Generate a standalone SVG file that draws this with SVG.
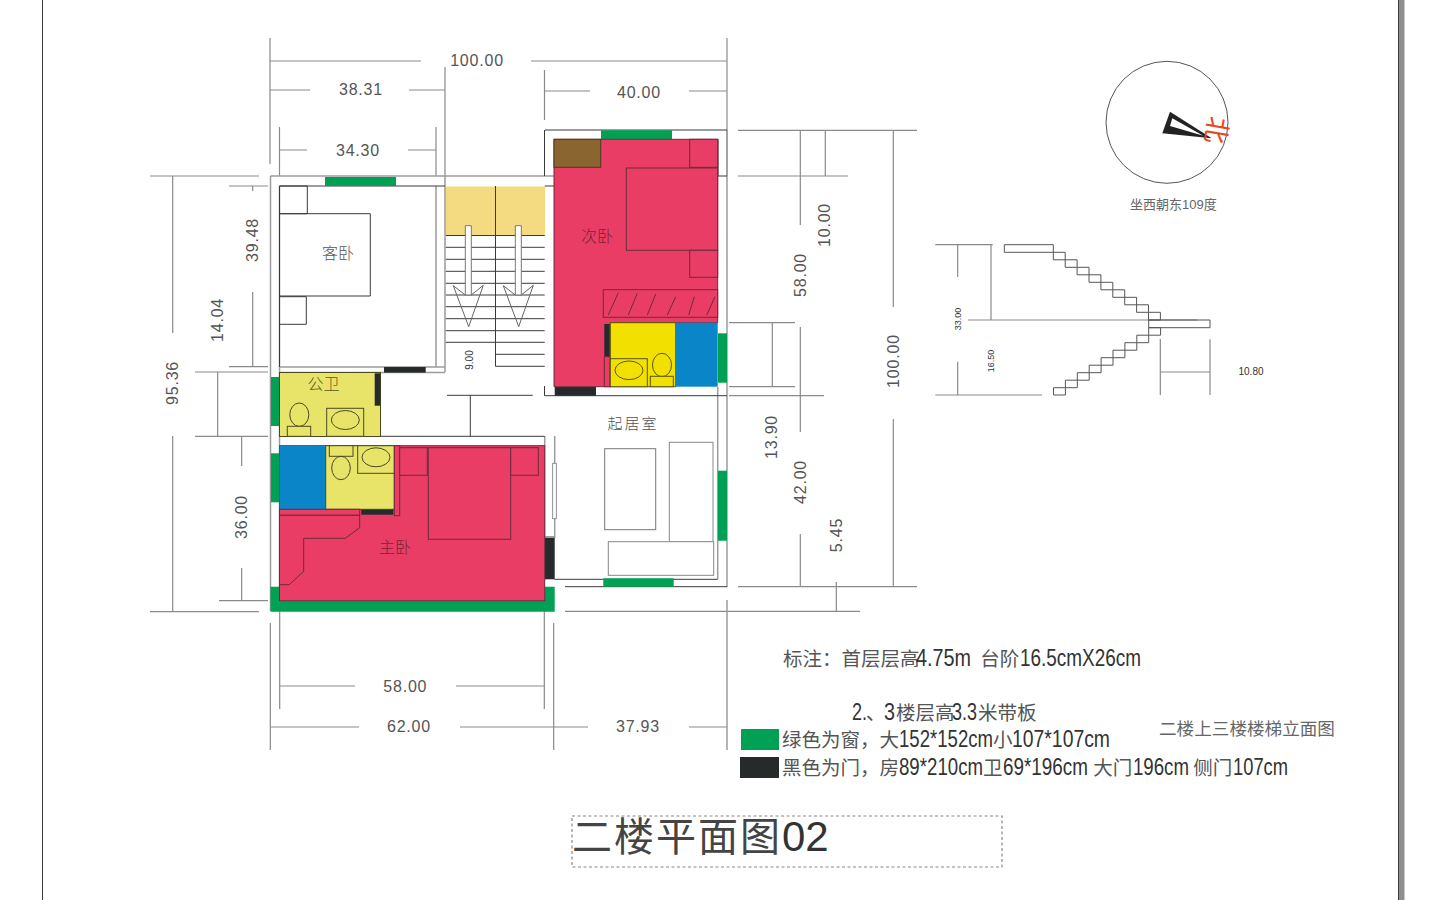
<svg xmlns="http://www.w3.org/2000/svg" width="1440" height="900" viewBox="0 0 1440 900">
<defs>
<style>
.g{fill:none;stroke:#8a8a8a;stroke-width:1.2}
.d{fill:none;stroke:#555;stroke-width:1}
.k{fill:none;stroke:#3a3a3a;stroke-width:1}
.w{fill:none;stroke:#9c9c9c;stroke-width:1.5}
.r{fill:#e93d65;stroke:#6e2a3c;stroke-width:1}
.rn{fill:none;stroke:#6e2a3c;stroke-width:1}
.y{fill:#e8e46a;stroke:#4a4a20;stroke-width:1}
.yb{fill:#f2e100;stroke:#5a5410;stroke-width:1}
.win{fill:#00a055}
.door{fill:#262a2b}
.blue{fill:#0a85c7}
.st{fill:#f4da80}
.dim{font-family:"Liberation Sans",Arial,sans-serif;font-size:16px;fill:#555;letter-spacing:.8px;text-anchor:middle}
.sm{font-family:"Liberation Sans",Arial,sans-serif;font-size:10px;fill:#333;text-anchor:middle}
.room{font-family:"Noto Sans CJK SC",sans-serif;font-size:16px;fill:#555;text-anchor:middle;font-weight:300}
.leg{font-family:"Noto Sans CJK SC",sans-serif;font-size:19.5px;fill:#555}
.num{font-family:"Liberation Sans",sans-serif;font-size:23px;fill:#333}
.cap{font-family:"Liberation Sans","Noto Sans CJK SC",sans-serif;fill:#666}
</style>
</defs>
<rect width="1440" height="900" fill="#fff"/>
<g id="page">
<path class="k" d="M42.5 0V900M1398.5 0V900"/>
<rect x="1399" y="0" width="5.5" height="900" fill="#8f8f8f"/>
</g>
<g id="dimensions">
<path class="g" d="M270 38V164M270 61H421M531 61H727M727 38V176M270 90H310M409 90H445M445 67V176M279.5 127V176M436 127V176M279.5 150H307M408 150H436M544.5 70V120M544.5 91H590M689 91H727"/>
<path class="g" d="M150 176H259M172.7 176V333M172.7 436V611.7M150 611.7H259M229 186H268M252.7 186V191M252.7 292V366.7M229 366.7H268M195 372H268M195 436.3H268M217.7 372V436.3M241.7 436.3V466M241.7 568V600.7M219 600.7H268"/>
<path class="g" d="M738 130.3H917M738 176H848M800.3 130V225M825.3 130V176M893.3 130V307M893.3 419V586.7M729 322.7H795M729 386.7H795M772.3 322.7V386.7M729 395.7H824M800.3 327V432M800.3 534V586.7M836.3 582V611.3M738 586.7H917M565 611.3H860"/>
<path class="g" d="M270.3 623V750M553.7 623V750M279.7 611V709M544.3 611V709M279.7 686H355M456 686H544.3M270.3 727H359M460 727H588M689 727H727"/>
<text class="dim" x="477" y="66">100.00</text>
<text class="dim" x="361" y="95">38.31</text>
<text class="dim" x="358" y="156">34.30</text>
<text class="dim" x="639" y="98">40.00</text>
<text class="dim" x="405.300" y="692">58.00</text>
<text class="dim" x="409" y="732">62.00</text>
<text class="dim" x="638" y="732">37.93</text>
<text class="dim" transform="translate(178,383) rotate(-90)">95.36</text>
<text class="dim" transform="translate(258,240) rotate(-90)">39.48</text>
<text class="dim" transform="translate(223,320) rotate(-90)">14.04</text>
<text class="dim" transform="translate(247,517) rotate(-90)">36.00</text>
<text class="dim" transform="translate(830,225) rotate(-90)">10.00</text>
<text class="dim" transform="translate(806,275) rotate(-90)">58.00</text>
<text class="dim" transform="translate(899,361) rotate(-90)">100.00</text>
<text class="dim" transform="translate(777,437) rotate(-90)">13.90</text>
<text class="dim" transform="translate(806,482) rotate(-90)">42.00</text>
<text class="dim" transform="translate(842,535) rotate(-90)">5.45</text>
</g>
<g id="stairwell">
<rect class="st" x="445.500" y="186.500" width="49.500" height="49"/>
<rect class="st" x="496" y="186.500" width="49" height="49"/>
<path class="k" d="M445.500 235.500H544.700M445.500 247.300H544.700M445.500 259.300H544.700M445.500 271.300H544.700M445.500 283.300H544.700M445.500 295H544.700M445.500 306.700H544.700M445.500 318.700H544.700M445.500 330.700H544.700M445.500 342.300H544.700M495.500 354.300H544.700M495.500 366.300H544.700M495.500 186V366.300M544.700 186H554"/>
<g fill="#fff" stroke="#777" stroke-width="1">
<path id="stair-arrow-1-shaft" d="M465.300 295V225.700H471.300V295Z"/>
<path id="stair-arrow-2-shaft" d="M515.300 295V225.700H521.300V295Z"/>
</g>
<g fill="none" stroke="#666" stroke-width="1">
<path id="stair-arrow-1" d="M471.300 295L483.300 285.300L468.700 326.700L453.300 285.700L465.300 295"/>
<path id="stair-arrow-2" d="M521.300 295L533.300 285.300L518.700 326.700L503.300 285.700L515.300 295"/>
</g>
<text class="sm" transform="translate(473,360) rotate(-90)">9.00</text>
</g>
<g id="walls">
<path class="w" d="M270.500 176V611M279.500 186V600M270.500 176H554M445 176V372M436 186V367M279.500 367H445M279.500 372.500H445M727 130V587M727 600V750M717.700 387V579.300M554.700 436V538M544.700 436V538M544.700 536.700H554.700"/>
<path class="k" d="M279.500 186H445M545 130H727M544.500 130V176M544.500 386V395.700H727M718 139.300V176M718 176H727M554.500 579.300H717.700M565 586.700H727M279.500 436.300H544.700M447 395.300H532.700M470.300 395.300V436.300"/>
<rect x="552.700" y="463.300" width="3.600" height="55.400" fill="#fff" stroke="#777" stroke-width=".8"/>
</g>
<g id="windows-doors">
<rect class="win" x="325" y="177" width="71" height="9"/>
<rect class="win" x="271" y="377" width="8.500" height="49"/>
<rect class="win" x="271" y="453.300" width="8.500" height="49"/>
<rect class="win" x="601" y="130.300" width="71" height="9"/>
<rect class="win" x="718" y="333.300" width="9" height="49.400"/>
<rect class="win" x="718" y="470.700" width="9" height="70"/>
<rect class="win" x="603.300" y="578.300" width="70.400" height="8.400"/>
<path class="win" d="M270.500 586.700H279.500V600.700H544.700V586.700H554.700V611.700H270.500Z"/>
<rect class="door" x="384" y="367" width="41.700" height="5.600"/>
<rect class="door" x="554.700" y="387" width="41.300" height="8.700"/>
<rect class="door" x="544.700" y="537.700" width="10" height="41.600"/>
</g>
<g id="room-guest">
<path class="k" d="M279.500 186V367M279.500 186H307.300V213.700H279.500M279.500 213.700H370.300V296H279.500M279.500 296.700H306.300V324.300H279.500"/>
<text class="room" x="338" y="259">客卧</text>
</g>
<g id="room-public-bath">
<rect class="y" x="279.500" y="372.500" width="101" height="64"/>
<rect class="door" x="374.700" y="373.300" width="5.600" height="32.400"/>
<ellipse class="rn" style="stroke:#4a4a20" cx="299.300" cy="414.700" rx="9.500" ry="11.700"/>
<rect class="y" x="287.300" y="426.300" width="23.400" height="10"/>
<rect class="y" x="326.700" y="408.300" width="37" height="28"/>
<ellipse class="rn" style="stroke:#4a4a20" cx="345.300" cy="420" rx="14" ry="9.500"/>
<text class="room" x="323.500" y="390" style="fill:#5a5a20">公卫</text>
</g>
<g id="room-second-bedroom">
<path class="r" d="M554 139.300H717.700V322.700H610.300V386.700H554Z"/>
<rect x="554" y="139.300" width="46.700" height="28" fill="#8a6530" stroke="#4a3a20"/>
<rect class="r" x="689.700" y="139.300" width="28" height="28"/>
<rect class="r" x="626.300" y="168" width="91.400" height="82.300"/>
<rect class="r" x="689.700" y="250.300" width="28" height="27"/>
<rect class="r" x="603.300" y="289.700" width="114.400" height="27.600"/>
<path class="rn" d="M618.300 292.700L608.300 315M637.300 293.300L628.300 315M655.700 294L647.300 315M675.700 296.700L667.300 315M694.300 296.700L688.700 315M715 296.700L706.700 315"/>
<rect class="door" x="604.300" y="324" width="5.400" height="32.700"/>
<rect class="r" x="604.300" y="356.700" width="5.700" height="30"/>
<rect class="yb" x="610.300" y="322.700" width="65.400" height="64"/>
<rect class="blue" x="675.700" y="322.700" width="42" height="64"/>
<rect class="yb" x="610.300" y="358.700" width="37" height="28"/>
<ellipse class="rn" style="stroke:#5a5410" cx="629" cy="370.300" rx="14" ry="9.300"/>
<ellipse class="rn" style="stroke:#5a5410" cx="662" cy="365" rx="9.500" ry="11.700"/>
<rect class="yb" x="650.300" y="376.300" width="23" height="10.400"/>
<text class="room" x="597" y="242" style="fill:#7a2238">次卧</text>
</g>
<g id="room-master-bedroom">
<rect class="r" x="279.500" y="445.700" width="265.200" height="155"/>
<rect class="blue" x="279.500" y="445.700" width="46.200" height="63.600"/>
<rect class="y" x="325.700" y="445.700" width="68.600" height="63.600"/>
<rect class="y" x="329.300" y="445.700" width="23.700" height="10.600"/>
<ellipse class="rn" style="stroke:#4a4a20" cx="341" cy="468" rx="9.300" ry="11.700"/>
<rect class="y" x="357.700" y="445.700" width="36.600" height="27.600"/>
<ellipse class="rn" style="stroke:#4a4a20" cx="376" cy="457.300" rx="14" ry="9.500"/>
<rect class="door" x="361.300" y="509.700" width="32" height="5"/>
<rect class="r" x="394.300" y="445.700" width="5.400" height="70"/>
<rect class="r" x="399.700" y="447.700" width="27.600" height="27.600"/>
<rect class="r" x="428.300" y="447.700" width="82.400" height="91.600"/>
<rect class="r" x="510.700" y="447.700" width="27.600" height="27.600"/>
<rect class="r" x="279.500" y="509.300" width="80.200" height="6"/>
<path class="r" d="M279.500 515.300H359.700V527.700L345.300 538.300H303.700V571.300L289.300 584.700H279.500Z"/>
<text class="room" x="395" y="553" style="fill:#7a2238">主卧</text>
</g>
<g id="room-living">
<rect x="604.700" y="448.700" width="51" height="81" fill="#fff" stroke="#777"/>
<rect x="669.300" y="442.300" width="43.700" height="99.700" fill="#fff" stroke="#888"/>
<rect x="608.300" y="541.700" width="105.400" height="33.600" fill="#fff" stroke="#888"/>
<text class="room" x="633" y="429" style="font-size:15px;letter-spacing:2px">起居室</text>
</g>
<g id="compass">
<circle cx="1167" cy="122.300" r="61" fill="none" stroke="#555"/>
<path d="M1170 111.700L1162.300 133.300L1211.700 138.300Z" fill="#222"/>
<path d="M1172.300 118.300L1170 126L1203.300 135.700Z" fill="#fff"/>
<text transform="translate(1216,130) rotate(100)" y="9" text-anchor="middle" font-family="'Noto Sans CJK SC',sans-serif" font-size="27" fill="#e8481c">北</text>
<text class="cap" x="1130" y="209" font-size="13">坐西朝东109度</text>
</g>
<g id="stair-elevation">
<path class="g" d="M935.300 244.700H992.700M957.700 244.700V277M991 244.700V320M968 320H1197.300M957.700 361.700V395M935.300 395H1042M1160.300 339V395M1210 339.300V395M1160.300 372H1210"/>
<path class="d" d="M1004.300 244.700H1053.300V252.300H1004.300ZM1053.300 252.300h11.900v7.500h-11.900zM1065.200 259.800h11.900v7.500h-11.900zM1077.100 267.300h11.900v7.500h-11.900zM1089 274.800h11.900v7.500h-11.900zM1100.900 282.300h11.900v7.500h-11.900zM1112.800 289.800h11.900v7.500h-11.900zM1124.700 297.300h11.900v7.500h-11.900zM1136.600 304.800h11.900v7.500h-11.900zM1148.500 312.300h11.900v7.700h-11.900zM1148.700 320H1210V327.700H1148.700ZM1148.700 327.700h11.900v7.500h-11.900zM1136.800 335.200h11.900v7.500h-11.900zM1124.900 342.700h11.900v7.500h-11.900zM1113 350.200h11.900v7.500h-11.900zM1101.100 357.700h11.900v7.500h-11.900zM1089.200 365.200h11.900v7.500h-11.900zM1077.300 372.700h11.900v7.500h-11.900zM1065.400 380.200h11.900v7.500h-11.900zM1053.500 387.700h11.900v7.300h-11.900z"/>
<text class="sm" transform="translate(961,319) rotate(-90)" style="font-size:9px">33.00</text>
<text class="sm" transform="translate(994,361) rotate(-90)" style="font-size:9px">16.50</text>
<text class="sm" x="1251" y="375">10.80</text>
</g>
<g id="legend">
<text class="leg" x="783" y="666">标注：首层层高<tspan class="num" x="916" textLength="55" lengthAdjust="spacingAndGlyphs">4.75m</tspan><tspan x="976"> 台阶</tspan><tspan class="num" x="1020" textLength="121" lengthAdjust="spacingAndGlyphs">16.5cmX26cm</tspan></text>
<text class="leg" x="852" y="720"><tspan class="num" textLength="15" lengthAdjust="spacingAndGlyphs">2.</tspan><tspan x="866">、</tspan><tspan class="num" x="884" textLength="11" lengthAdjust="spacingAndGlyphs">3</tspan><tspan x="896">楼层高</tspan><tspan class="num" x="952" textLength="25" lengthAdjust="spacingAndGlyphs">3.3</tspan><tspan x="978">米带板</tspan></text>
<text class="cap" x="1159" y="735" font-size="17.600">二楼上三楼楼梯立面图</text>
<rect class="win" x="741" y="729" width="38" height="21"/>
<text class="leg" x="782" y="747">绿色为窗，大<tspan class="num" x="899" textLength="94" lengthAdjust="spacingAndGlyphs">152*152cm</tspan><tspan x="993">小</tspan><tspan class="num" x="1012" textLength="98" lengthAdjust="spacingAndGlyphs">107*107cm</tspan></text>
<rect class="door" x="740" y="757" width="39" height="21"/>
<text class="leg" x="782" y="775">黑色为门，房<tspan class="num" x="899" textLength="84" lengthAdjust="spacingAndGlyphs">89*210cm</tspan><tspan x="983">卫</tspan><tspan class="num" x="1003" textLength="85" lengthAdjust="spacingAndGlyphs">69*196cm</tspan><tspan x="1089"> 大门</tspan><tspan class="num" x="1133" textLength="56" lengthAdjust="spacingAndGlyphs">196cm</tspan><tspan x="1189"> 侧门</tspan><tspan class="num" x="1233" textLength="55" lengthAdjust="spacingAndGlyphs">107cm</tspan></text>
</g>
<g id="title">
<rect x="572" y="816" width="430" height="51" fill="none" stroke="#888" stroke-width="1.200" stroke-dasharray="3 2.500"/>
<text x="572" y="851" font-family="'Liberation Sans','Noto Sans CJK SC',sans-serif" font-size="42" fill="#333"><tspan font-size="40" letter-spacing="2" fill="#444">二楼平面图</tspan>02</text>
</g>
</svg>
